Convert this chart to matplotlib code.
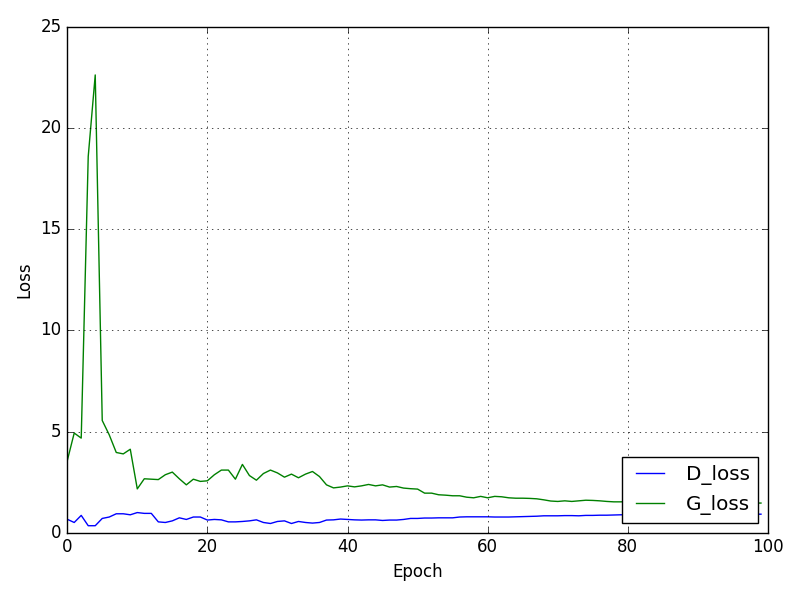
import matplotlib
matplotlib.use('Agg')
from matplotlib import pyplot as plt

# loss per epoch
d_loss = [0.67, 0.51, 0.86, 0.35, 0.35, 0.71, 0.78, 0.94, 0.94, 0.89,
          1.00, 0.96, 0.96, 0.54, 0.51, 0.59, 0.74, 0.66, 0.78, 0.78,
          0.63, 0.66, 0.64, 0.54, 0.54, 0.56, 0.59, 0.64, 0.51, 0.46,
          0.56, 0.59, 0.46, 0.56, 0.51, 0.48, 0.51, 0.63, 0.64, 0.68,
          0.66, 0.64, 0.63, 0.64, 0.64, 0.61, 0.63, 0.63, 0.66, 0.71,
          0.71, 0.73, 0.73, 0.74, 0.74, 0.74, 0.78, 0.79, 0.79, 0.79,
          0.79, 0.78, 0.78, 0.78, 0.79, 0.80, 0.81, 0.82, 0.84, 0.84,
          0.84, 0.85, 0.85, 0.84, 0.86, 0.86, 0.87, 0.87, 0.88, 0.89,
          0.89, 0.89, 0.90, 0.89, 0.90, 0.90, 0.91, 0.90, 0.91, 0.91,
          0.91, 0.92, 0.91, 0.92, 0.92, 0.91, 0.92, 0.92, 0.92, 0.92]

g_loss = [3.55, 4.93, 4.68, 18.6, 22.63, 5.55, 4.84, 3.97, 3.90, 4.13,
          2.17, 2.67, 2.65, 2.63, 2.87, 3.00, 2.67, 2.37, 2.65, 2.54,
          2.57, 2.87, 3.10, 3.10, 2.65, 3.38, 2.83, 2.60, 2.93, 3.10,
          2.96, 2.75, 2.90, 2.72, 2.90, 3.03, 2.78, 2.37, 2.22, 2.26,
          2.32, 2.27, 2.32, 2.39, 2.32, 2.37, 2.26, 2.29, 2.21, 2.18,
          2.16, 1.96, 1.96, 1.88, 1.86, 1.83, 1.83, 1.76, 1.73, 1.80,
          1.73, 1.80, 1.78, 1.73, 1.71, 1.71, 1.70, 1.68, 1.63, 1.57,
          1.55, 1.58, 1.55, 1.58, 1.61, 1.60, 1.58, 1.55, 1.53, 1.53,
          1.54, 1.53, 1.52, 1.53, 1.51, 1.52, 1.50, 1.51, 1.50, 1.49,
          1.50, 1.48, 1.49, 1.48, 1.47, 1.48, 1.47, 1.46, 1.47, 1.47]

epochs = list(range(len(d_loss)))

plt.style.use('classic')
fig = plt.figure(figsize=(8, 6), dpi=100)
fig.patch.set_facecolor('white')
fig.subplots_adjust(left=0.084, right=0.96, top=0.955, bottom=0.112)
ax = fig.add_subplot(111)

ax.plot(epochs, d_loss, color='b', label='D_loss')
ax.plot(epochs, g_loss, color='g', label='G_loss')
ax.set_xlabel('Epoch')
ax.set_ylabel('Loss')
ax.set_xlim(0, 100)
ax.set_ylim(0, 25)
ax.grid(True)
ax.legend(loc='lower right')

fig.savefig('out.png', dpi=100, facecolor='white')
